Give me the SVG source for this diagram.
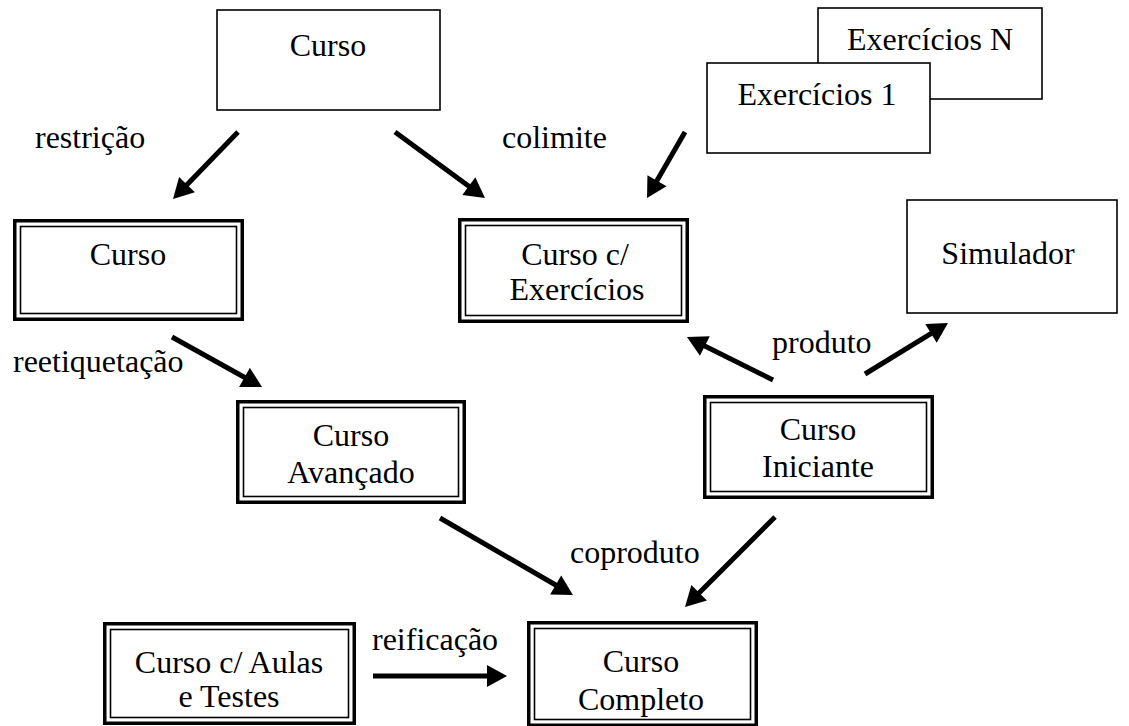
<svg xmlns="http://www.w3.org/2000/svg" width="1129" height="726" viewBox="0 0 1129 726">
  <defs>
    <style>
      text { font-family: "Liberation Serif", "Times New Roman", serif; font-size: 32px; fill: #000; }
      .c { text-anchor: middle; }
      .box { fill: #fff; stroke: #000; stroke-width: 1.6; }
      .outer { fill: #fff; stroke: #000; stroke-width: 3.5; }
      .inner { fill: none; stroke: #000; stroke-width: 1.6; }
      .arrow { stroke: #000; stroke-width: 5; fill: none; marker-end: url(#head); }
    </style>
    <marker id="head" markerUnits="userSpaceOnUse" markerWidth="20" markerHeight="22" refX="8" refY="11" orient="auto" overflow="visible">
      <path d="M0,0 L20,11 L0,22 z" fill="#000"/>
    </marker>
  </defs>
  <rect width="1129" height="726" fill="#fff"/>

  <!-- connectors -->
  <g id="connectors">
    <line class="arrow" x1="238" y1="132" x2="181.4" y2="190.4"/>
    <line class="arrow" x1="395" y1="132" x2="475.3" y2="190.9"/>
    <line class="arrow" x1="685" y1="132" x2="653" y2="187.6"/>
    <line class="arrow" x1="172" y1="337" x2="251.5" y2="381.2"/>
    <line class="arrow" x1="773" y1="380" x2="697.7" y2="342.4"/>
    <line class="arrow" x1="865" y1="374" x2="937.8" y2="329.3"/>
    <line class="arrow" x1="440" y1="518" x2="562.6" y2="589"/>
    <line class="arrow" x1="775" y1="517" x2="693.5" y2="598.5"/>
    <line class="arrow" x1="373" y1="676" x2="495" y2="676"/>
    <text x="35" y="148">restrição</text>
    <text x="502" y="148">colimite</text>
    <text x="13" y="372">reetiquetação</text>
    <text x="772" y="353">produto</text>
    <text x="570" y="563">coproduto</text>
    <text x="372" y="650">reificação</text>
  </g>

  <!-- source course -->
  <g id="curso">
    <rect class="box" x="217" y="10" width="223" height="100"/>
    <text class="c" x="328" y="56">Curso</text>
  </g>

  <!-- exercise sets -->
  <g id="exercicios-n">
    <rect class="box" x="818" y="8" width="224" height="91"/>
    <text class="c" x="930" y="50">Exercícios N</text>
  </g>
  <g id="exercicios-1">
    <rect class="box" x="707" y="63" width="223" height="90"/>
    <text class="c" x="817" y="105">Exercícios 1</text>
  </g>

  <!-- restricted course -->
  <g id="curso-restrito">
    <rect class="outer" x="14.75" y="220.75" width="227.5" height="98.5"/>
    <rect class="inner" x="20.5" y="226.5" width="216" height="87"/>
    <text class="c" x="128" y="265">Curso</text>
  </g>

  <!-- course with exercises -->
  <g id="curso-exercicios">
    <rect class="outer" x="459.75" y="219.75" width="227.5" height="101.5"/>
    <rect class="inner" x="465.5" y="225.5" width="216" height="90"/>
    <text class="c" x="575" y="265">Curso c/</text>
    <text class="c" x="577" y="300">Exercícios</text>
  </g>

  <!-- simulator -->
  <g id="simulador">
    <rect class="box" x="907" y="200" width="210" height="113"/>
    <text class="c" x="1008" y="264">Simulador</text>
  </g>

  <!-- advanced course -->
  <g id="curso-avancado">
    <rect class="outer" x="237.75" y="401.75" width="226.5" height="100.5"/>
    <rect class="inner" x="243.5" y="407.5" width="215" height="89"/>
    <text class="c" x="351" y="446">Curso</text>
    <text class="c" x="351" y="483">Avançado</text>
  </g>

  <!-- beginner course -->
  <g id="curso-iniciante">
    <rect class="outer" x="704.75" y="396.75" width="227.5" height="100.5"/>
    <rect class="inner" x="710.5" y="402.5" width="216" height="89"/>
    <text class="c" x="818" y="440">Curso</text>
    <text class="c" x="818" y="477">Iniciante</text>
  </g>

  <!-- course with lessons and tests -->
  <g id="curso-aulas-testes">
    <rect class="outer" x="104.75" y="623.75" width="249.5" height="99.5"/>
    <rect class="inner" x="110.5" y="629.5" width="238" height="88"/>
    <text class="c" x="229" y="673">Curso c/ Aulas</text>
    <text class="c" x="229" y="707">e Testes</text>
  </g>

  <!-- complete course -->
  <g id="curso-completo">
    <rect class="outer" x="528.75" y="622.75" width="227.5" height="102.5"/>
    <rect class="inner" x="534.5" y="628.5" width="216" height="91"/>
    <text class="c" x="641" y="672">Curso</text>
    <text class="c" x="641" y="710">Completo</text>
  </g>
</svg>
